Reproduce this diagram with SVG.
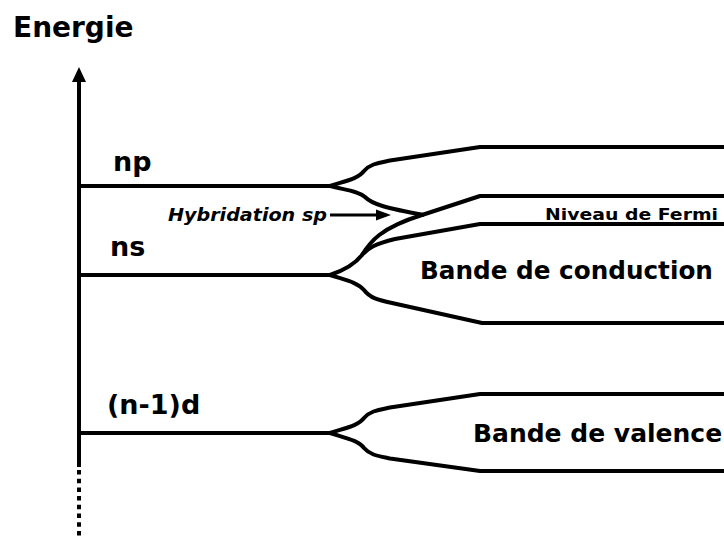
<svg xmlns="http://www.w3.org/2000/svg" width="724" height="540" viewBox="0 0 724 540">
<style>
.ln{fill:none;stroke:#000;stroke-width:4;stroke-linejoin:round}
.t{font-family:"DejaVu Sans",sans-serif;font-weight:bold;fill:#000}
</style>
<rect width="724" height="540" fill="#fff"/>
<g id="axis">
<line class="ln" x1="79" y1="80" x2="79" y2="467"/>
<line x1="79" y1="470" x2="79" y2="538" stroke="#000" stroke-width="4" stroke-dasharray="4.5 4.2"/>
<polygon points="79,67 72,82 86,82" fill="#000"/>
</g>
<text id="energie" class="t" x="13" y="37" font-size="28">Energie</text>
<g id="np">
<line class="ln" x1="79" y1="186" x2="330" y2="186"/>
<text class="t" x="113" y="171" font-size="27">np</text>
</g>
<g id="ns">
<line class="ln" x1="79" y1="275" x2="330" y2="275"/>
<text class="t" x="110" y="256" font-size="27">ns</text>
</g>
<g id="nd">
<line class="ln" x1="79" y1="433" x2="330" y2="433"/>
<text class="t" x="107" y="414" font-size="27">(n-1)d</text>
</g>
<g id="connectors">
<path class="ln" d="M330,186 C345,181 358,179 364,171 C370,164 378,163 390,160.5 L480,147 L724,147"/>
<path class="ln" d="M330,186 C345,190 358,191 365,197 C372,204 385,208 424,215"/>
<path class="ln" d="M330,275 C345,270 355,264 362,255 C370,242 380,228 422,215 L480,196 L724,196"/>
<path class="ln" d="M362,255 C368,248 375,244 395,239 L480,224 L724,224"/>
<path class="ln" d="M330,275 C345,280 357,282 364,290 C370,298 378,300 392,303 L482,323 L724,323"/>
<path class="ln" d="M330,433 C345,428 358,426 364,418 C370,411 378,410 390,407.5 L480,394 L724,394"/>
<path class="ln" d="M330,433 C345,438 358,440 364,448 C370,455 378,456 390,458.5 L480,471 L724,471"/>
<line x1="330" y1="215" x2="378" y2="215" stroke="#000" stroke-width="3"/>
<polygon points="391,215 376,209.5 376,220.5" fill="#000"/>
</g>
<text id="hybridation" class="t" x="168" y="221" font-size="18.5" font-style="italic" textLength="159" lengthAdjust="spacingAndGlyphs">Hybridation sp</text>
<text id="fermi" class="t" x="545" y="220" font-size="16.5" textLength="173" lengthAdjust="spacingAndGlyphs">Niveau de Fermi</text>
<text id="conduction" class="t" x="420" y="279" font-size="24.7">Bande de conduction</text>
<text id="valence" class="t" x="473" y="442" font-size="25">Bande de valence</text>
</svg>
